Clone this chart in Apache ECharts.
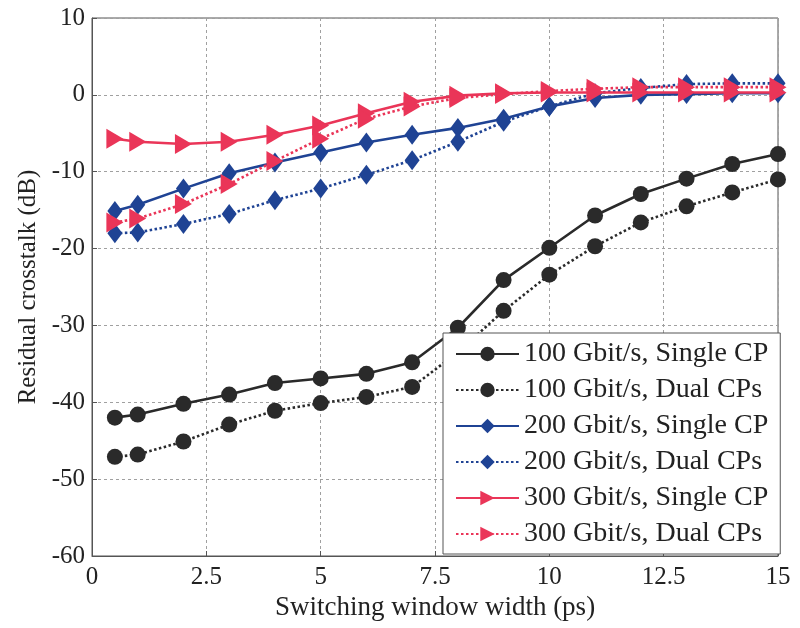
<!DOCTYPE html>
<html>
<head>
<meta charset="utf-8">
<script src="https://cdn.jsdelivr.net/npm/echarts@6/dist/echarts.min.js"></script>
<style>
  html, body { margin: 0; padding: 0; background: #ffffff; }
  #chart { width: 800px; height: 628px; }
</style>
</head>
<body>
<div id="chart"></div>
<script>
// Switching window width (ps)
const windowWidth = [0.5, 1, 2, 3, 4, 5, 6, 7, 8, 9, 10, 11, 12, 13, 14, 15];

// Residual crosstalk (dB) per bit rate and cyclic-prefix scheme
const g100Single = [-42.0, -41.6, -40.2, -39.0, -37.5, -36.9, -36.3, -34.8, -30.3, -24.1, -19.9, -15.7, -12.9, -10.9, -9.0, -7.7];
const g100Dual   = [-47.1, -46.8, -45.1, -42.9, -41.1, -40.1, -39.3, -38.0, -33.5, -28.1, -23.4, -19.7, -16.6, -14.5, -12.7, -11.0];
const g200Single = [-15.1, -14.3, -12.2, -10.2, -8.8, -7.5, -6.2, -5.2, -4.3, -3.1, -1.5, -0.4, 0.0, 0.1, 0.2, 0.2];
const g200Dual   = [-18.0, -17.9, -16.8, -15.5, -13.7, -12.2, -10.4, -8.5, -6.1, -3.5, -1.5, 0.2, 0.9, 1.4, 1.5, 1.5];
const g300Single = [-5.7, -6.1, -6.4, -6.1, -5.2, -4.0, -2.4, -0.9, -0.1, 0.2, 0.3, 0.3, 0.3, 0.3, 0.3, 0.3];
const g300Dual   = [-16.6, -16.1, -14.2, -11.6, -8.6, -5.7, -3.1, -1.5, -0.4, 0.1, 0.5, 0.8, 1.0, 1.0, 1.0, 1.0];

const seriesNames = [
  '100 Gbit/s, Single CP',
  '100 Gbit/s, Dual CPs',
  '200 Gbit/s, Single CP',
  '200 Gbit/s, Dual CPs',
  '300 Gbit/s, Single CP',
  '300 Gbit/s, Dual CPs'
];

const FONT = '"Liberation Serif", "Times New Roman", serif';
const TEXT = '#222222';
const BLACK = '#2a2a2a';
const BLUE = '#1f4394';
const RED = '#ea3558';

function pairs(ys) {
  return windowWidth.map((x, i) => [x, ys[i]]);
}

function makeSeries(name, ys, color, dotted, symbol, size, rotate) {
  return {
    name: name,
    type: 'line',
    data: pairs(ys),
    symbol: symbol,
    symbolSize: size,
    symbolRotate: rotate || 0,
    showAllSymbol: true,
    lineStyle: { color: color, width: 2.6, type: dotted ? [2.5, 2.5] : 'solid' },
    itemStyle: { color: color, borderWidth: 0 },
    emphasis: { disabled: true },
    animation: false,
    z: 3
  };
}

const chart = echarts.init(document.getElementById('chart'), null, { renderer: 'canvas' });

chart.setOption({
  backgroundColor: '#ffffff',
  animation: false,
  grid: {
    left: 92, right: 22, top: 18, bottom: 72,
    show: true, borderColor: '#555', borderWidth: 1, backgroundColor: 'transparent'
  },
  xAxis: {
    type: 'value',
    min: 0, max: 15, interval: 2.5,
    name: 'Switching window width (ps)',
    nameLocation: 'middle',
    nameGap: 35,
    nameTextStyle: { fontFamily: FONT, fontSize: 27, color: TEXT },
    axisLine: { show: true, onZero: false, lineStyle: { color: '#555', width: 1 } },
    axisTick: { show: true, inside: true, length: 5, lineStyle: { color: '#555' } },
    axisLabel: { fontFamily: FONT, fontSize: 25, color: TEXT, margin: 9 },
    splitLine: { show: true, lineStyle: { color: '#a0a0a0', width: 1, type: [3, 3] } }
  },
  yAxis: {
    type: 'value',
    min: -60, max: 10, interval: 10,
    name: 'Residual crosstalk (dB)',
    nameLocation: 'middle',
    nameGap: 51,
    nameTextStyle: { fontFamily: FONT, fontSize: 25, color: TEXT },
    axisLine: { show: true, lineStyle: { color: '#555', width: 1 } },
    axisTick: { show: true, inside: true, length: 5, lineStyle: { color: '#555' } },
    axisLabel: { fontFamily: FONT, fontSize: 25, color: TEXT, margin: 7 },
    splitLine: { show: true, lineStyle: { color: '#a0a0a0', width: 1, type: [3, 3] } }
  },
  legend: {
    orient: 'vertical',
    left: 443, top: 333,
    padding: [7, 12, 6, 12],
    itemWidth: 63, itemHeight: 18, itemGap: 8,
    backgroundColor: '#ffffff',
    borderColor: '#555', borderWidth: 1,
    textStyle: { fontFamily: FONT, fontSize: 28, color: TEXT, lineHeight: 28 },
    data: seriesNames,
    z: 10
  },
  series: [
    makeSeries(seriesNames[0], g100Single, BLACK, false, 'circle', 16),
    makeSeries(seriesNames[1], g100Dual, BLACK, true, 'circle', 16),
    makeSeries(seriesNames[2], g200Single, BLUE, false, 'diamond', [15, 20]),
    makeSeries(seriesNames[3], g200Dual, BLUE, true, 'diamond', [15, 20]),
    makeSeries(seriesNames[4], g300Single, RED, false, 'triangle', [20, 17], -90),
    makeSeries(seriesNames[5], g300Dual, RED, true, 'triangle', [20, 17], -90)
  ]
});
</script>
</body>
</html>
